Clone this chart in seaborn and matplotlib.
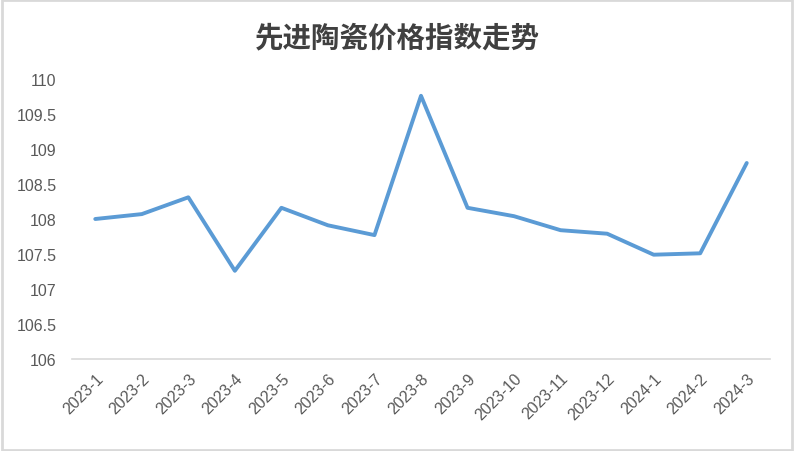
import matplotlib
matplotlib.use("Agg")
import matplotlib.pyplot as plt
import seaborn as sns
import pandas as pd
import numpy as np
from matplotlib.patches import Rectangle

months = ["2023-1", "2023-2", "2023-3", "2023-4", "2023-5", "2023-6", "2023-7", "2023-8",
          "2023-9", "2023-10", "2023-11", "2023-12", "2024-1", "2024-2", "2024-3"]
index_values = [108.00, 108.07, 108.31, 107.26, 108.16, 107.91, 107.77, 109.76,
                108.16, 108.04, 107.84, 107.79, 107.49, 107.51, 108.80]
y_ticks = [106, 106.5, 107, 107.5, 108, 108.5, 109, 109.5, 110]
y_tick_labels = ["106", "106.5", "107", "107.5", "108", "108.5", "109", "109.5", "110"]
title = "先进陶瓷价格指数走势"

sns.set_theme(style="white")
plt.rcParams['font.family'] = ['Noto Sans CJK SC', 'DejaVu Sans']

df = pd.DataFrame({"pos": np.arange(len(months)), "value": index_values})

fig = plt.figure(figsize=(7.94, 4.52), dpi=100)
ax = fig.add_axes([72/794, 1-360/452, (770-72)/794, (360-80)/452])

sns.lineplot(data=df, x="pos", y="value", ax=ax, color="#5B9BD5", linewidth=2.8,
             sort=False, zorder=5)

ax.set_xlim(-0.5, len(months) - 0.5)
ax.set_ylim(106, 110)
ax.set_yticks(y_ticks)
ax.set_yticklabels(y_tick_labels, fontsize=11.5, color="#595959", family="Liberation Sans")
ax.set_xticks(np.arange(len(months)))
ax.set_xticklabels(months, rotation=45, ha="right", rotation_mode="anchor",
                   fontsize=11.5, color="#595959", family="Liberation Sans")
ax.set_xticks(np.arange(len(months) + 1) - 0.5, minor=True)
ax.tick_params(axis="x", which="major", length=0, pad=8)
ax.tick_params(axis="x", which="minor", length=6, direction="in", color="#d9d9d9", width=1.2)
ax.tick_params(axis="y", length=0, pad=11)
ax.set_xlabel("")
ax.set_ylabel("")
for s in ["top", "right", "left"]:
    ax.spines[s].set_visible(False)
ax.spines["bottom"].set_color("#d9d9d9")
ax.spines["bottom"].set_linewidth(1.2)
ax.grid(False)

fig.text(0.5, 1-38/452, title, ha="center", va="center", fontsize=20.5,
         color="#404040", fontweight="bold")

fig.patches.append(Rectangle((0.002, 0.003), 0.995, 0.994, transform=fig.transFigure,
                             fill=False, edgecolor="#d9d9d9", linewidth=2))

fig.savefig("out.png", dpi=100, facecolor="white")
